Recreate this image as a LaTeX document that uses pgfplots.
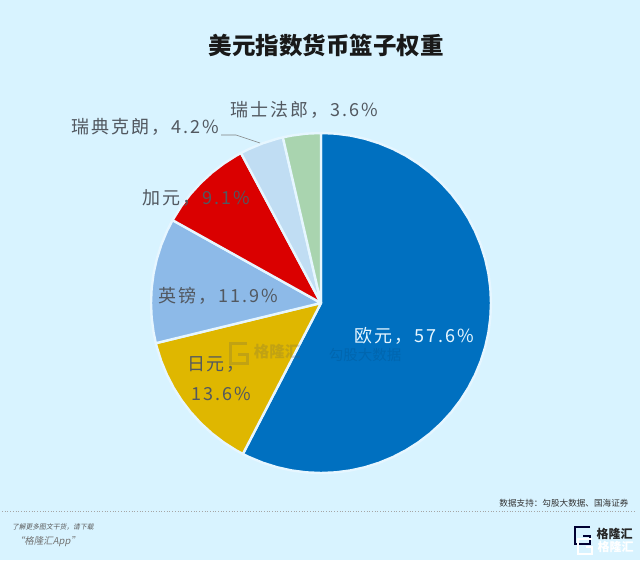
\documentclass[border=0pt]{standalone}
\usepackage{fontspec}
\usepackage{pgfplots}
\usepgfplotslibrary{polar}
\pgfplotsset{compat=1.18}
\setmainfont{Noto Sans CJK SC}
\newfontfamily\cjk{Noto Sans CJK SC}
\newfontfamily\lab[LetterSpace=11]{Noto Sans CJK SC}
\definecolor{bg}{HTML}{D8F3FF}
\definecolor{euro}{HTML}{0070C0}
\definecolor{jpy}{HTML}{DFB700}
\definecolor{gbp}{HTML}{8DBAE8}
\definecolor{cad}{HTML}{DA0000}
\definecolor{sek}{HTML}{C0DDF3}
\definecolor{chf}{HTML}{A9D4AF}
\definecolor{sep}{HTML}{E6F6FF}
\definecolor{ink}{HTML}{525860}
\begin{document}
\begin{tikzpicture}[x=1pt,y=1pt]
\useasboundingbox (0,0) rectangle (640,560);
\fill[bg] (0,0) rectangle (640,560);
\begin{polaraxis}[
  at={(321pt,257pt)}, anchor=origin,
  scale only axis, width=340pt, height=340pt,
  hide axis, clip=false,
  xmin=0, xmax=360, ymin=0, ymax=1,
  every axis plot/.append style={draw=sep, line width=2.4pt, line join=round},
]
\addplot[fill=euro] coordinates {(0,0) (90,1) (85,1) (80,1) (75,1) (70,1) (65,1) (60,1) (55,1) (50,1) (45,1) (40,1) (35,1) (30,1) (25,1) (20,1) (15,1) (10,1) (5,1) (0,1) (-5,1) (-10,1) (-15,1) (-20,1) (-25,1) (-30,1) (-35,1) (-40,1) (-45,1) (-50,1) (-55,1) (-60,1) (-65,1) (-70,1) (-75,1) (-80,1) (-85,1) (-90,1) (-95,1) (-100,1) (-105,1) (-110,1) (-115,1) (-117.36,1)} -- cycle;
\addplot[fill=jpy] coordinates {(0,0) (-117.36,1) (-120,1) (-125,1) (-130,1) (-135,1) (-140,1) (-145,1) (-150,1) (-155,1) (-160,1) (-165,1) (-166.32,1)} -- cycle;
\addplot[fill=gbp] coordinates {(0,0) (-166.32,1) (-170,1) (-175,1) (-180,1) (-185,1) (-190,1) (-195,1) (-200,1) (-205,1) (-209.16,1)} -- cycle;
\addplot[fill=cad] coordinates {(0,0) (150.84,1) (145,1) (140,1) (135,1) (130,1) (125,1) (120,1) (118.08,1)} -- cycle;
\addplot[fill=sek] coordinates {(0,0) (118.08,1) (115,1) (110,1) (105,1) (102.96,1)} -- cycle;
\addplot[fill=chf] coordinates {(0,0) (102.96,1) (100,1) (95,1) (90,1)} -- cycle;
\end{polaraxis}
% title
\node[font=\cjk\fontsize{23.5}{26}\selectfont\bfseries, text=black!90] at (326,514) {美元指数货币篮子权重};
% labels
\draw[gray, line width=0.6pt] (221,425) -- (236,425) -- (260,417);
\node[font=\lab\fontsize{18}{20}\selectfont, text=ink] at (304,450) {瑞士法郎，3.6\%};
\node[font=\lab\fontsize{18}{20}\selectfont, text=ink] at (145,433) {瑞典克朗，4.2\%};
\node[font=\lab\fontsize{18}{20}\selectfont, text=ink] at (196,362) {加元，9.1\%};
\node[font=\lab\fontsize{18}{20}\selectfont, text=ink] at (218,264) {英镑，11.9\%};
\node[font=\lab\fontsize{18}{20}\selectfont, text=ink] at (216,195) {日元，};
\node[font=\lab\fontsize{18}{20}\selectfont, text=ink] at (221,166) {13.6\%};
\node[font=\lab\fontsize{18}{20}\selectfont, text=sep, inner sep=0pt] at (414,224) {欧元，57.6\%};
% watermark
\begin{scope}[opacity=0.22, text opacity=0.22]
\draw[gray!70!black, line width=3pt] (247,216) -- (230,216) -- (230,196) -- (247,196) -- (247,205) -- (238,205);
\node[font=\cjk\fontsize{15.5}{17}\selectfont\bfseries, text=gray!70!black] at (277,208) {格隆汇};
\node[font=\cjk\fontsize{14.5}{16}\selectfont, text=euro!60!black, inner sep=0pt] at (365,205) {勾股大数据};
\end{scope}
% footer
\node[anchor=east, font=\cjk\fontsize{8.6}{10}\selectfont, text=black!80] at (632,57) {数据支持：勾股大数据、国海证券};
\draw[gray!70, line width=0.7pt, dotted] (2,49) -- (634,49);
\node[anchor=west, font=\cjk\fontsize{6.8}{8}\selectfont, text=black!65, xslant=0.2] at (9,33) {了解更多图文干货，请下载};
\node[anchor=west, font=\cjk\fontsize{9.5}{11}\selectfont, text=black!55, xslant=0.2] at (12,18) {“格隆汇App”};
% logo
\draw[black!80!blue, line width=2.4pt] (590,33) -- (575,33) -- (575,16) -- (590,16) -- (590,24) -- (583,24);
\node[anchor=west, font=\cjk\fontsize{12}{14}\selectfont\bfseries, text=black!85] at (593,26) {格隆汇};
\draw[white, line width=2.4pt] (592,21) -- (578,21) -- (578,6) -- (592,6) -- (592,13) -- (586,13);
\node[anchor=west, font=\cjk\fontsize{12}{14}\selectfont\bfseries, text=white] at (594,13) {格隆汇};
\end{tikzpicture}
\end{document}
